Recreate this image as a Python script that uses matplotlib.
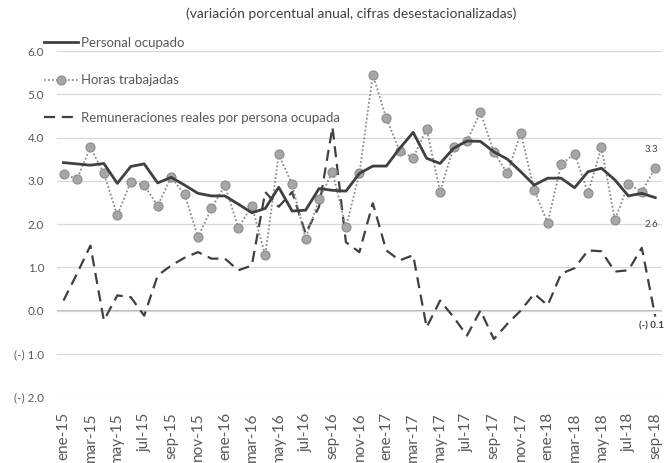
import numpy as np
import matplotlib
matplotlib.use('Agg')
import matplotlib.pyplot as plt

plt.rcParams['font.family'] = ['Lato', 'DejaVu Sans']

# meses ene-15 .. sep-18
meses = ['ene', 'feb', 'mar', 'abr', 'may', 'jun', 'jul', 'ago', 'sep', 'oct', 'nov', 'dic']
fechas = []
for a in ['15', '16', '17', '18']:
    for m in meses:
        fechas.append(m + '-' + a)
fechas = fechas[:45]

personal = [3.42, 3.39, 3.36, 3.40, 2.94, 3.33, 3.39, 2.95, 3.08, 2.90,
            2.71, 2.65, 2.65, 2.46, 2.26, 2.36, 2.85, 2.30, 2.32, 2.82,
            2.78, 2.76, 3.17, 3.34, 3.34, 3.75, 4.12, 3.52, 3.40, 3.75,
            3.92, 3.91, 3.67, 3.50, 3.21, 2.90, 3.06, 3.06, 2.84, 3.21,
            3.29, 3.02, 2.65, 2.71, 2.61]

horas = [3.16, 3.04, 3.77, 3.17, 2.20, 2.98, 2.90, 2.42, 3.08, 2.69,
         1.70, 2.36, 2.90, 1.91, 2.42, 1.28, 3.61, 2.92, 1.66, 2.57,
         3.21, 1.92, 3.17, 5.45, 4.45, 3.69, 3.53, 4.20, 2.75, 3.77,
         3.92, 4.58, 3.67, 3.17, 4.11, 2.78, 2.03, 3.38, 3.62, 2.72,
         3.77, 2.09, 2.92, 2.75, 3.30]

remuneraciones = [0.23, 0.85, 1.50, -0.23, 0.35, 0.31, -0.12, 0.81, 1.04, 1.22,
                  1.35, 1.20, 1.20, 0.93, 1.04, 2.74, 2.40, 2.74, 1.78, 2.40,
                  4.24, 1.58, 1.35, 2.48, 1.39, 1.16, 1.28, -0.39, 0.23, -0.15,
                  -0.58, 0.00, -0.66, -0.31, 0.00, 0.39, 0.12, 0.85, 0.98, 1.39,
                  1.37, 0.90, 0.93, 1.45, -0.14]

yticks = [-2, -1, 0, 1, 2, 3, 4, 5, 6]
ytick_labels = ['(-) 2.0', '(-) 1.0', '0.0', '1.0', '2.0', '3.0', '4.0', '5.0', '6.0']

x = np.arange(len(fechas))

fig = plt.figure(figsize=(6.68, 4.63), dpi=100)
ax = fig.add_axes([0.085, 0.1425, 0.906, 0.7473])

ax.plot(x, personal, color='#404040', lw=2.0, label='Personal ocupado', zorder=4)
ax.plot(x, horas, color='#8c8c8c', lw=1.3, ls=(0, (1, 1.2)), marker='o', ms=6.5,
        markerfacecolor='#a6a6a6', markeredgecolor='#8c8c8c', markeredgewidth=0.8,
        label='Horas trabajadas', zorder=3)
ax.plot(x, remuneraciones, color='#404040', lw=1.6, ls=(0, (5, 3)),
        label='Remuneraciones reales por persona ocupada', zorder=2)

ax.set_xlim(-0.5, len(fechas) - 0.5)
ax.set_ylim(-2, 6)
ax.set_yticks(yticks)
ax.set_yticklabels(ytick_labels)
ax.set_xticks(x[::2])
ax.set_xticklabels(fechas[::2], rotation=90, fontsize=11, color='#595959')
ax.tick_params(axis='y', length=0, pad=9, labelsize=8.5, labelcolor='#595959')
ax.tick_params(axis='x', length=0, pad=11)
ax.grid(axis='y', color='#d9d9d9', lw=0.9)
ax.axhline(0, color='#a6a6a6', lw=1.1, zorder=1)
for s in ax.spines.values():
    s.set_visible(False)

# etiquetas de los ultimos datos
ax.annotate('3.3', (x[-1], horas[-1]), xytext=(-2.5, 13), textcoords='offset points',
            ha='center', va='center', fontsize=7, color='#404040')
ax.annotate('2.6', (x[-1], personal[-1]), xytext=(-2.5, -19), textcoords='offset points',
            ha='center', va='center', fontsize=7, color='#404040')
ax.annotate('(-) 0.1', (x[-1], remuneraciones[-1]), xytext=(-3, -7), textcoords='offset points',
            ha='center', va='center', fontsize=7, color='#404040', fontweight='bold')

fig.text(0.525, 0.97, '(variación porcentual anual, cifras desestacionalizadas)',
         ha='center', va='center', fontsize=10, color='#404040')

fig.legend(loc='upper left', bbox_to_anchor=(0.066, 0.921), frameon=False,
           fontsize=9.5, labelspacing=1.95, handlelength=2.6, handletextpad=0.2,
           borderpad=0, borderaxespad=0, labelcolor='#595959')

fig.savefig('out.png', dpi=100)
